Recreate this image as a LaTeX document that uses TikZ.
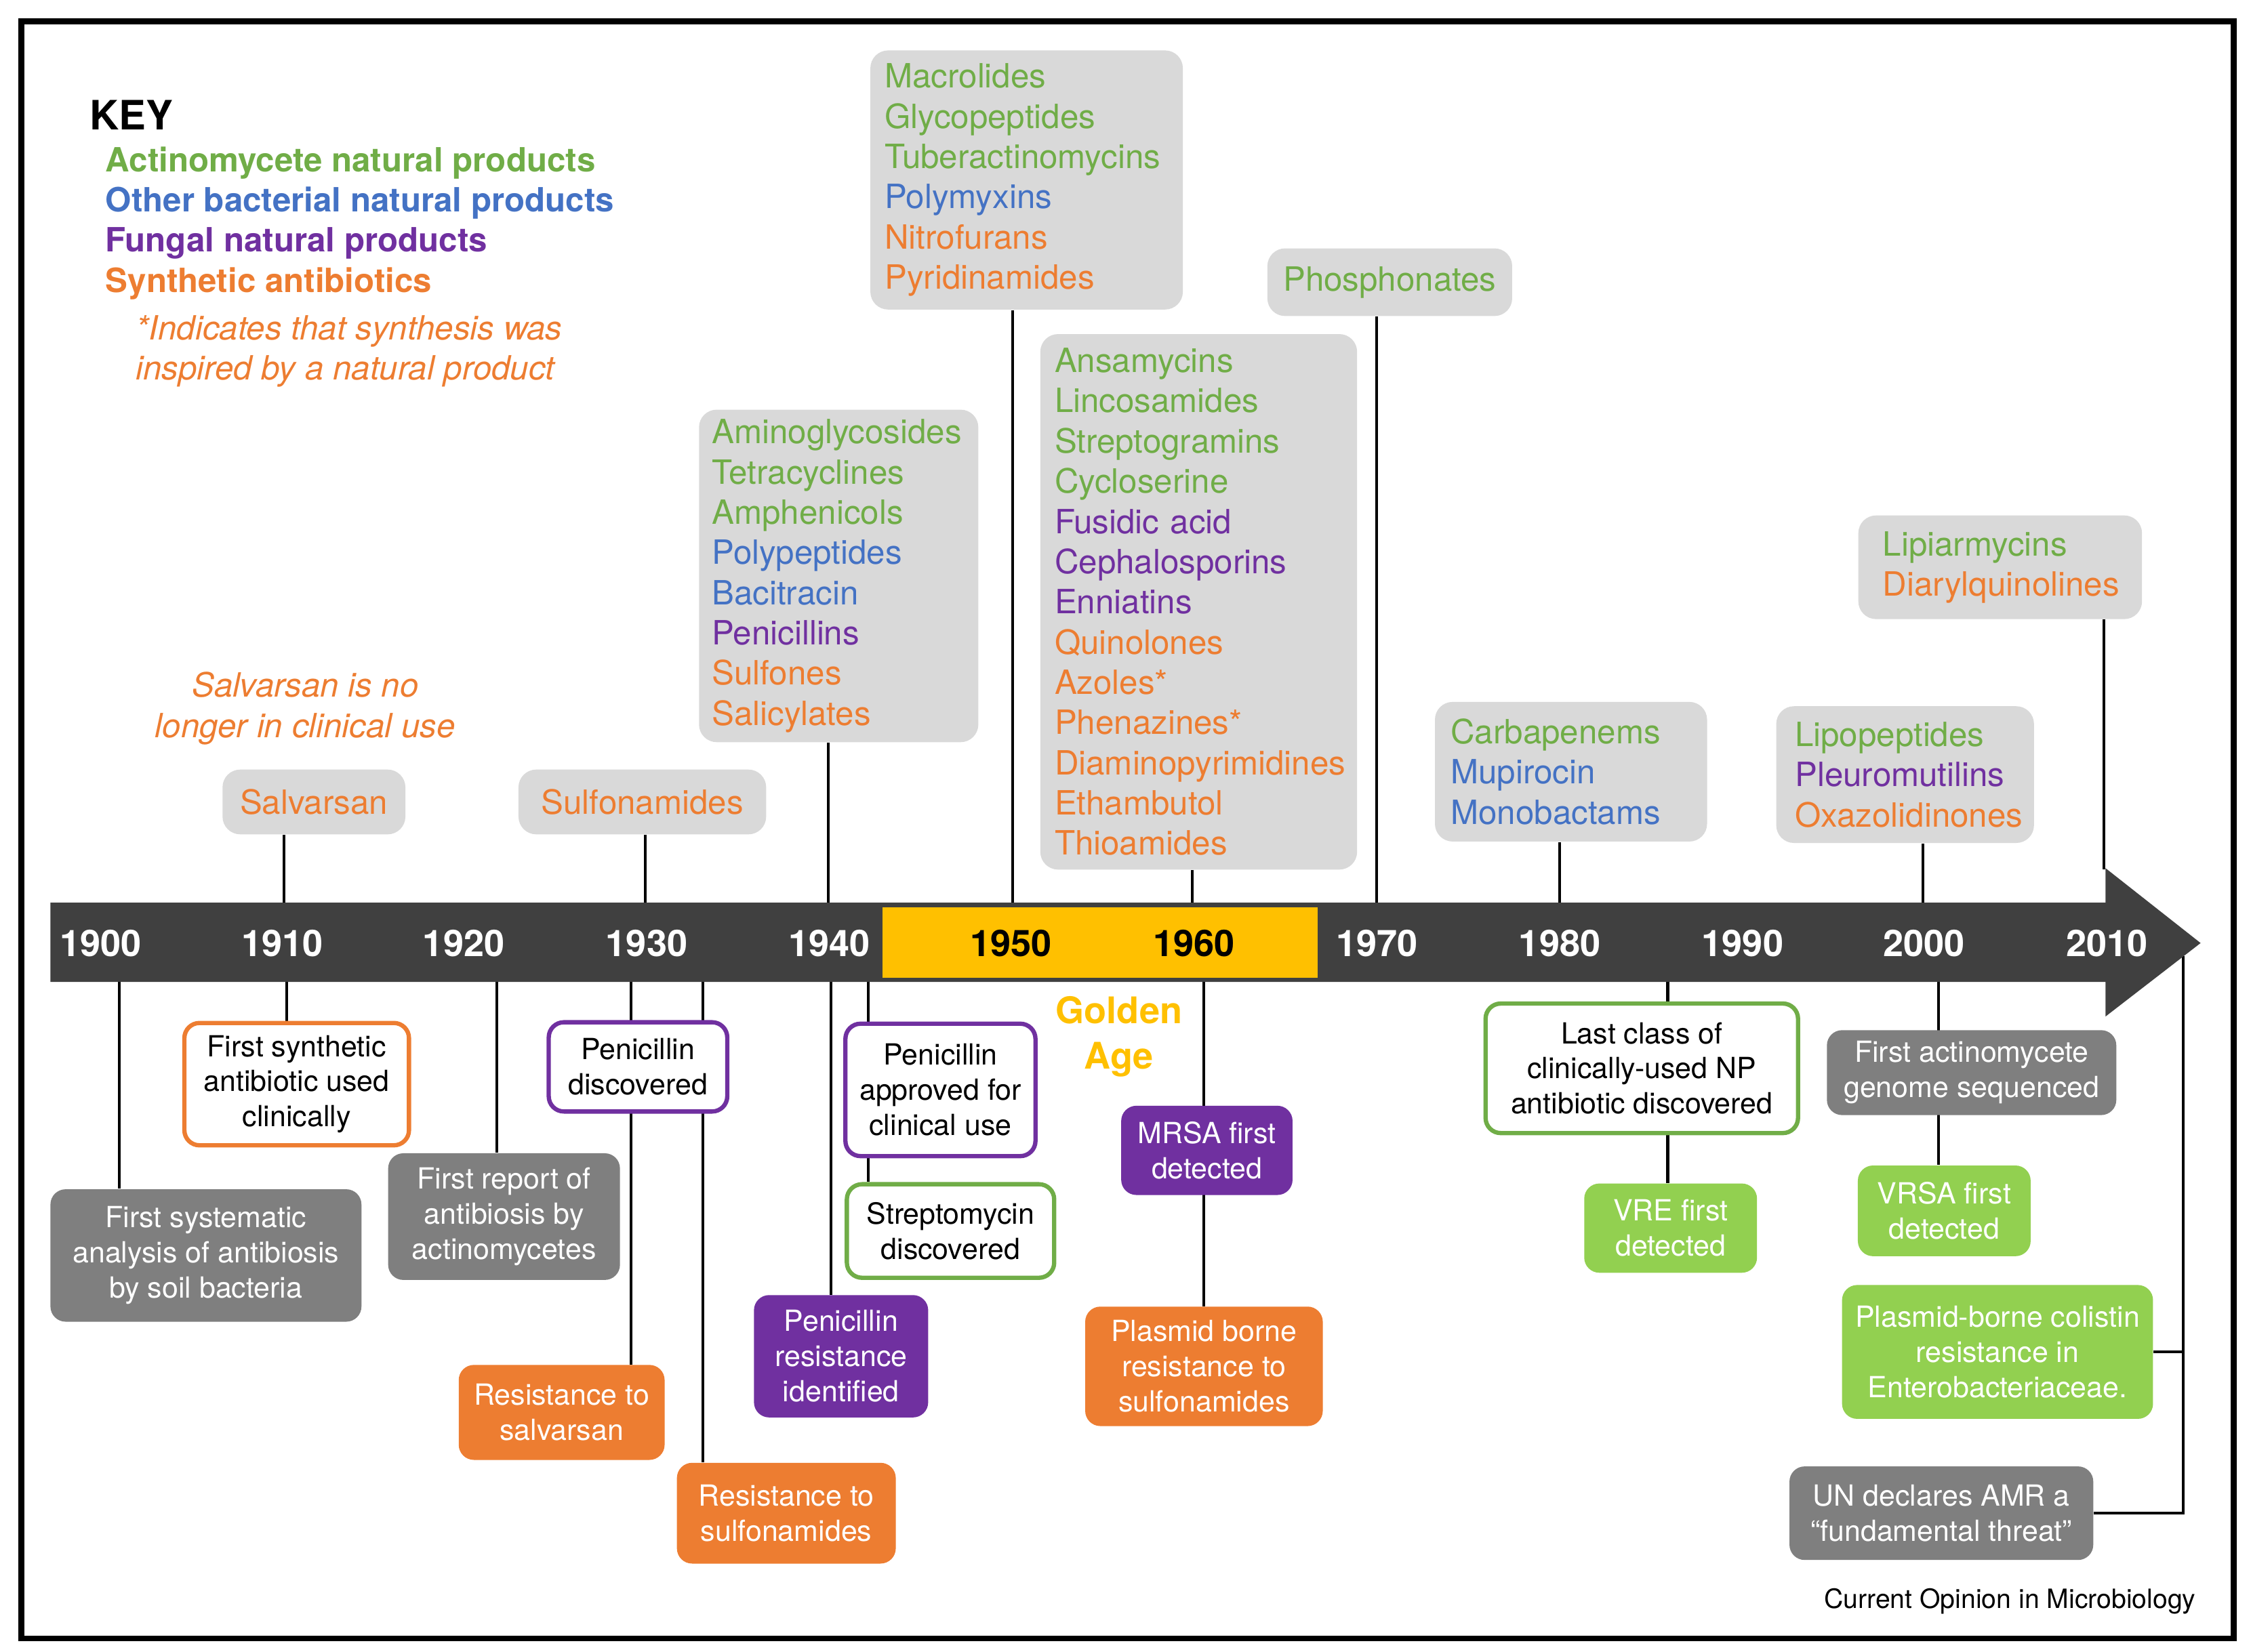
\documentclass[tikz,border=0pt]{standalone}
\usepackage{fontspec}
\setmainfont{TeX Gyre Heros}
\usetikzlibrary{backgrounds}
\definecolor{actn}{HTML}{70AD47}
\definecolor{bact}{HTML}{4472C4}
\definecolor{fung}{HTML}{7030A0}
\definecolor{synt}{HTML}{ED7D31}
\definecolor{boxgray}{HTML}{D9D9D9}
\definecolor{darkbox}{HTML}{7F7F7F}
\definecolor{limebox}{HTML}{92D050}
\definecolor{barcol}{HTML}{404040}
\definecolor{gold}{HTML}{FFC000}
\newcommand{\actn}[1]{\textcolor{actn}{#1}}
\newcommand{\bact}[1]{\textcolor{bact}{#1}}
\newcommand{\fung}[1]{\textcolor{fung}{#1}}
\newcommand{\synt}[1]{\textcolor{synt}{#1}}
\newcommand{\fsList}{\fontsize{13.2}{15.9}\selectfont}
\newcommand{\fsEvt}{\fontsize{11.5}{13.9}\selectfont}
\newcommand{\fsYear}{\fontsize{14.5}{17}\selectfont}
\tikzset{
  listbox/.style={fill=boxgray, rounded corners=7pt, align=left, inner xsep=0.2cm, inner ysep=0pt, font=\fsList},
  evtbox/.style={rounded corners=6pt, align=center, inner sep=1pt, font=\fsEvt},
  edged/.style={evtbox, draw=#1, fill=white, line width=1.7pt},
  filled/.style={evtbox, fill=#1, text=white},
  year/.style={font=\fsYear\bfseries, text=white},
  link/.style={line width=1.1pt}
}

\begin{document}
\begin{tikzpicture}[x=0.02cm, y=-0.02cm]
    \useasboundingbox (0,0) rectangle (1563,1147);
    \draw[line width=2.4pt] (15,15) rectangle (1551,1138);
    % key
    \node[anchor=west, inner sep=0pt, font=\fontsize{16}{19}\selectfont\bfseries] (key) at (62,80) {KEY};
    \node[anchor=west, align=left, inner sep=0pt, font=\fsList\bfseries] (keylist) at (73,155)
        {\actn{Actinomycete natural products}\\ \bact{Other bacterial natural products}\\
         \fung{Fungal natural products}\\ \synt{Synthetic antibiotics}};
    \node[anchor=west, align=left, inner sep=0pt, text=synt, font=\fsList\itshape] (keynote) at (94,244)
        {*Indicates that synthesis was\\ inspired by a natural product};
    \node[align=center, inner sep=0pt, text=synt, font=\fsList\itshape] (salvnote) at (212,492)
        {Salvarsan is no\\ longer in clinical use};
    % timeline
    \fill[barcol] (35,627) -- (1462,627) -- (1462,603) -- (1528,655) -- (1462,706) -- (1462,682) -- (35,682) -- cycle;
    \fill[gold] (613,630) rectangle (915,679);
    \node[year] (y1900) at (70,655) {1900};
    \node[year] (y1910) at (196,655) {1910};
    \node[year] (y1920) at (322,655) {1920};
    \node[year] (y1930) at (449,655) {1930};
    \node[year] (y1940) at (576,655) {1940};
    \node[year, text=black] (y1950) at (702,655) {1950};
    \node[year, text=black] (y1960) at (829,655) {1960};
    \node[year] (y1970) at (956,655) {1970};
    \node[year] (y1980) at (1083,655) {1980};
    \node[year] (y1990) at (1210,655) {1990};
    \node[year] (y2000) at (1336,655) {2000};
    \node[year] (y2010) at (1463,655) {2010};
    \node[align=center, inner sep=0pt, text=gold, font=\fontsize{14.5}{18.1}\selectfont\bfseries] (golden) at (777,720) {Golden\\ Age};
    % ticks on the bar
    \coordinate (salvT) at (197,627);
    \coordinate (sulfT) at (448,627);
    \coordinate (aminoT) at (575,627);
    \coordinate (macroT) at (703,627);
    \coordinate (ansaT) at (828,627);
    \coordinate (phosT) at (956,627);
    \coordinate (carbT) at (1083,627);
    \coordinate (lipoT) at (1335,627);
    \coordinate (lipiT) at (1461,604);
    \coordinate (sysT) at (83,682);
    \coordinate (synT) at (199,682);
    \coordinate (repT) at (345,682);
    \coordinate (salT) at (438,682);
    \coordinate (sulT) at (488,682);
    \coordinate (penT) at (577,682);
    \coordinate (appT) at (603,682);
    \coordinate (mrsaT) at (836,682);
    \coordinate (npT) at (1158,682);
    \coordinate (genT) at (1346,682);
    \coordinate (tipT) at (1516,664);
    % classes above
    \node[listbox, anchor=west, text width=3.94cm, minimum height=3.6cm] (macro) at (604,125)
        {\actn{Macrolides}\\ \actn{Glycopeptides}\\ \actn{Tuberactinomycins}\\
         \bact{Polymyxins}\\ \synt{Nitrofurans}\\ \synt{Pyridinamides}};
    \node[listbox, anchor=west, text width=3.52cm, minimum height=4.62cm, inner xsep=0.18cm] (amino) at (485,400)
        {\actn{Aminoglycosides}\\ \actn{Tetracyclines}\\ \actn{Amphenicols}\\ \bact{Polypeptides}\\
         \bact{Bacitracin}\\ \fung{Penicillins}\\ \synt{Sulfones}\\ \synt{Salicylates}};
    \node[listbox, anchor=west, text width=4.0cm, minimum height=7.44cm] (ansa) at (722,418)
        {\actn{Ansamycins}\\ \actn{Lincosamides}\\ \actn{Streptogramins}\\ \actn{Cycloserine}\\
         \fung{Fusidic acid}\\ \fung{Cephalosporins}\\ \fung{Enniatins}\\ \synt{Quinolones}\\
         \synt{Azoles*}\\ \synt{Phenazines*}\\ \synt{Diaminopyrimidines}\\ \synt{Ethambutol}\\
         \synt{Thioamides}};
    \node[listbox, minimum width=3.4cm, minimum height=0.94cm] (phos) at (965,196) {\actn{Phosphonates}};
    \node[listbox, minimum width=2.54cm, minimum height=0.9cm] (salv) at (218,557) {\synt{Salvarsan}};
    \node[listbox, minimum width=3.44cm, minimum height=0.9cm] (sulf) at (446,557) {\synt{Sulfonamides}};
    \node[listbox, anchor=west, text width=3.34cm, minimum height=1.94cm, inner xsep=0.22cm] (carb) at (996,536)
        {\actn{Carbapenems}\\ \bact{Mupirocin}\\ \bact{Monobactams}};
    \node[listbox, anchor=west, text width=3.06cm, minimum height=1.9cm, inner xsep=0.26cm] (lipo) at (1233,538)
        {\actn{Lipopeptides}\\ \fung{Pleuromutilins}\\ \synt{Oxazolidinones}};
    \node[listbox, anchor=west, text width=3.26cm, minimum height=1.44cm, inner xsep=0.34cm] (lipi) at (1290,394)
        {\actn{Lipiarmycins}\\ \synt{Diarylquinolines}};
    % events below
    \node[filled=darkbox, minimum width=4.32cm, minimum height=1.84cm] (sysbox) at (143,872)
        {First systematic\\ analysis of antibiosis\\ by soil bacteria};
    \node[edged=synt, minimum width=3.12cm, minimum height=1.7cm] (synbox) at (206,753)
        {First synthetic\\ antibiotic used\\ clinically};
    \node[filled=darkbox, minimum width=3.22cm, minimum height=1.76cm] (repbox) at (350,845)
        {First report of\\ antibiosis by\\ actinomycetes};
    \node[edged=fung, minimum width=2.48cm, minimum height=1.24cm] (pendisc) at (443,741)
        {Penicillin\\ discovered};
    \node[filled=synt, minimum width=2.86cm, minimum height=1.32cm] (ressal) at (390,981)
        {Resistance to\\ salvarsan};
    \node[filled=synt, minimum width=3.04cm, minimum height=1.4cm] (ressulf) at (546,1051)
        {Resistance to\\ sulfonamides};
    \node[filled=fung, minimum width=2.42cm, minimum height=1.7cm] (penres) at (584,942)
        {Penicillin\\ resistance\\ identified};
    \node[edged=fung, minimum width=2.64cm, minimum height=1.84cm] (penapp) at (653,757)
        {Penicillin\\ approved for\\ clinical use};
    \node[edged=actn, minimum width=2.88cm, minimum height=1.3cm] (strep) at (660,855)
        {Streptomycin\\ discovered};
    \node[filled=fung, minimum width=2.38cm, minimum height=1.24cm] (mrsa) at (838,799)
        {MRSA first\\ detected};
    \node[filled=synt, minimum width=3.3cm, minimum height=1.66cm] (plasmid) at (836,949)
        {Plasmid borne\\ resistance to\\ sulfonamides};
    \node[edged=actn, minimum width=4.34cm, minimum height=1.8cm] (lastnp) at (1140,742)
        {Last class of\\ clinically-used NP\\ antibiotic discovered};
    \node[filled=limebox, minimum width=2.4cm, minimum height=1.24cm] (vre) at (1160,853)
        {VRE first\\ detected};
    \node[filled=darkbox, minimum width=4.02cm, minimum height=1.18cm] (genome) at (1369,745)
        {First actinomycete\\ genome sequenced};
    \node[filled=limebox, minimum width=2.4cm, minimum height=1.26cm] (vrsa) at (1350,841)
        {VRSA first\\ detected};
    \node[filled=limebox, minimum width=4.32cm, minimum height=1.86cm] (colistin) at (1387,939)
        {Plasmid-borne colistin\\ resistance in\\ Enterobacteriaceae.};
    \node[filled=darkbox, minimum width=4.22cm, minimum height=1.3cm] (un) at (1348,1051)
        {UN declares AMR a\\ “fundamental threat”};
    \node[anchor=east, inner sep=0pt, font=\fontsize{10.5}{12}\selectfont] (source) at (1525,1112)
        {Current Opinion in Microbiology};
    % connectors
    \begin{pgfonlayer}{background}
    \draw[link] (salv.south -| salvT) -- (salvT);
    \draw[link] (sulf.south -| sulfT) -- (sulfT);
    \draw[link] (amino.south -| aminoT) -- (aminoT);
    \draw[link] (macro.south -| macroT) -- (macroT);
    \draw[link] (ansa.south -| ansaT) -- (ansaT);
    \draw[link] (phos.south -| phosT) -- (phosT);
    \draw[link] (carb.south -| carbT) -- (carbT);
    \draw[link] (lipo.south -| lipoT) -- (lipoT);
    \draw[link] (lipi.south -| lipiT) -- (lipiT);
    \draw[link] (sysT) -- (sysT |- sysbox.north);
    \draw[link] (synT) -- (synT |- synbox.north);
    \draw[link] (repT) -- (repT |- repbox.north);
    \draw[link] (salT) -- (salT |- ressal.north);
    \draw[link] (sulT) -- (sulT |- ressulf.north);
    \draw[link] (penT) -- (penT |- penres.north);
    \draw[link] (appT) -- (appT |- strep.north);
    \draw[link] (mrsaT) -- (mrsaT |- plasmid.north);
    \draw[link] (npT) -- (npT |- vre.north);
    \draw[link] (genT) -- (genT |- vrsa.north);
    \draw[link] (tipT) |- (un.east);
    \draw[link] (colistin.east) -- (colistin.east -| tipT);
    \end{pgfonlayer}
\end{tikzpicture}
\end{document}
